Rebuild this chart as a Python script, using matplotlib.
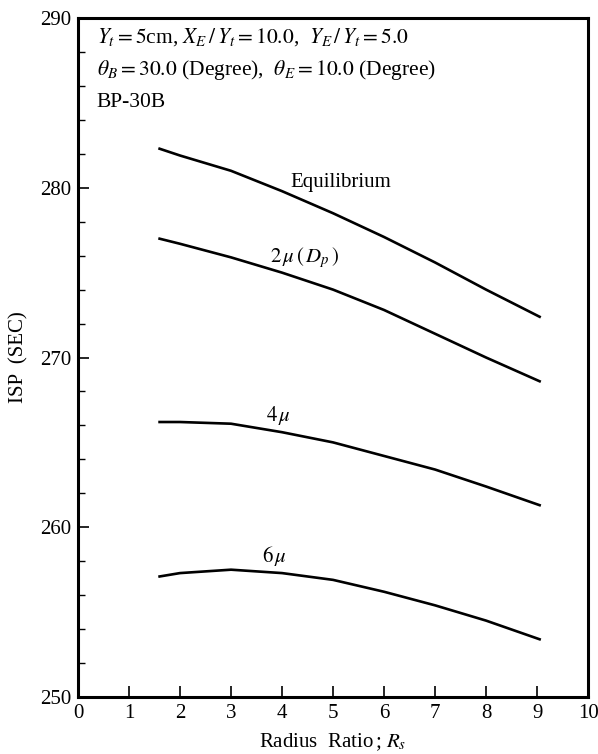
import matplotlib
matplotlib.use("Agg")
import matplotlib.pyplot as plt
from matplotlib.ticker import MultipleLocator

plt.rcParams['font.family'] = ['Liberation Serif', 'DejaVu Serif']
plt.rcParams['mathtext.fontset'] = 'stix'

# radius ratio samples
radius_ratio = [1.6, 2, 3, 4, 5, 6, 7, 8, 9.05]

# specific impulse (sec) for each particle size
isp_equilibrium = [282.3, 281.9, 281.0, 279.8, 278.5, 277.1, 275.6, 274.0, 272.4]
isp_2mu = [277.0, 276.7, 275.9, 275.0, 274.0, 272.8, 271.4, 270.0, 268.6]
isp_4mu = [266.2, 266.2, 266.1, 265.6, 265.0, 264.2, 263.4, 262.4, 261.3]
isp_6mu = [257.1, 257.3, 257.5, 257.3, 256.9, 256.2, 255.4, 254.5, 253.4]

curve_labels = ["Equilibrium", r"$2\,\mu\,(\,D_p\,)$", r"$4\,\mu$", r"$6\,\mu$"]
label_x = [5.16, 4.45, 3.93, 3.85]
label_y = [280.3, 275.9, 266.6, 258.3]

fig = plt.figure(figsize=(5.98, 7.54), dpi=100)
ax = fig.add_axes([0.1304, 0.0756, 0.853, 0.9005])

for series in (isp_equilibrium, isp_2mu, isp_4mu, isp_6mu):
    ax.plot(radius_ratio, series, color='black', lw=1.9)

for txt, lx, ly in zip(curve_labels, label_x, label_y):
    ax.text(lx, ly, txt, fontsize=15, ha='center', va='center')

ax.set_xlim(0, 10)
ax.set_ylim(250, 290)
ax.xaxis.set_major_locator(MultipleLocator(1))
ax.yaxis.set_major_locator(MultipleLocator(10))
ax.yaxis.set_minor_locator(MultipleLocator(2))
ax.tick_params(axis='both', which='major', direction='in', length=8, width=1.2,
               labelsize=15, pad=5)
ax.tick_params(axis='y', which='minor', direction='in', length=5, width=1.0)
ax.tick_params(top=False, right=False)
for sp in ax.spines.values():
    sp.set_linewidth(2.2)

ax.set_xlabel(r"Radius  Ratio$\,$; $R_s$", fontsize=15, labelpad=6)
ax.set_ylabel("ISP  (SEC)", fontsize=15, labelpad=8)

# run conditions in the upper left corner
ax.text(0.037, 0.972, r"$Y_t=5$cm, $X_E\,/\,Y_t=10.0$,  $Y_E\,/\,Y_t=5.0$",
        transform=ax.transAxes, fontsize=15.5, va='center', ha='left')
ax.text(0.037, 0.923, r"$\theta_B=30.0$ (Degree),  $\theta_E=10.0$ (Degree)",
        transform=ax.transAxes, fontsize=15.5, va='center', ha='left')
ax.text(0.037, 0.875, "BP-30B", transform=ax.transAxes, fontsize=15.5,
        va='center', ha='left')

fig.savefig("out.png", dpi=100)
